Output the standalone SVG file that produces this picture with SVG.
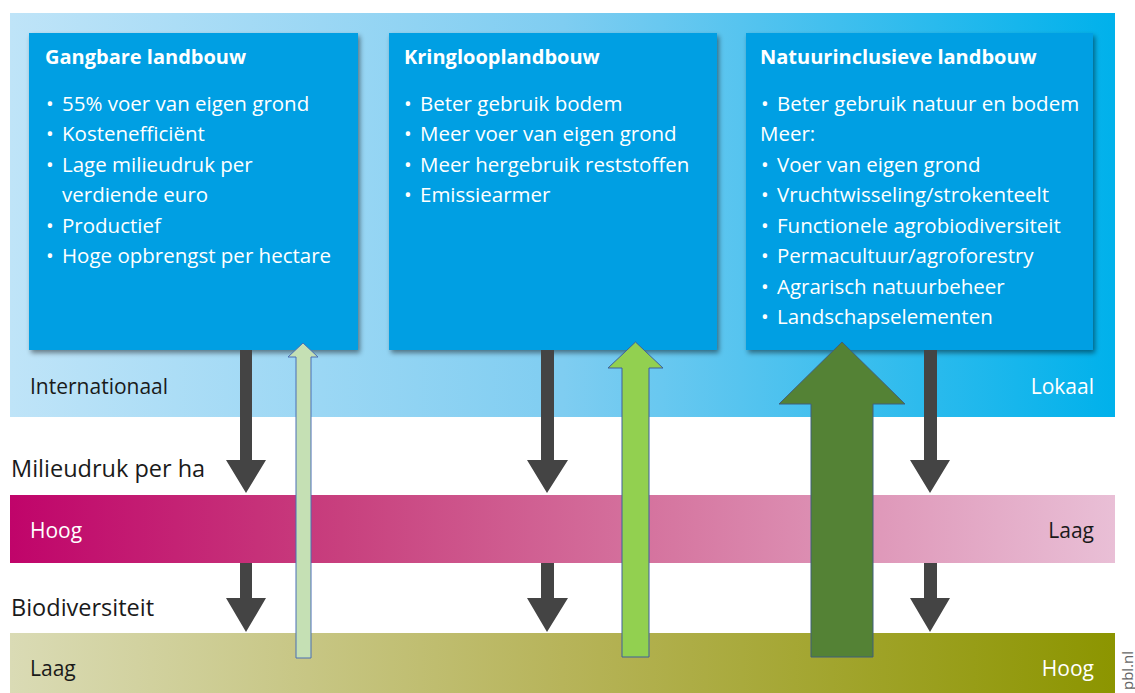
<svg xmlns="http://www.w3.org/2000/svg" width="1135" height="693" viewBox="0 0 1135 693">
<defs>
<linearGradient id="gBlue" x1="0" x2="1" y1="0" y2="0"><stop offset="0" stop-color="#bfe4f8"/><stop offset="0.5" stop-color="#7fcdf1"/><stop offset="1" stop-color="#00b1eb"/></linearGradient>
<linearGradient id="gPink" x1="0" x2="1" y1="0" y2="0"><stop offset="0" stop-color="#c0046a"/><stop offset="0.3" stop-color="#c8407e"/><stop offset="0.6" stop-color="#d677a1"/><stop offset="1" stop-color="#e9bfd6"/></linearGradient>
<linearGradient id="gOlive" x1="0" x2="1" y1="0" y2="0"><stop offset="0" stop-color="#dadbb5"/><stop offset="0.5" stop-color="#b7b45a"/><stop offset="1" stop-color="#8c9500"/></linearGradient>
<filter id="sh" x="-5%" y="-5%" width="112%" height="115%"><feDropShadow dx="2" dy="3" stdDeviation="2.5" flood-color="#000" flood-opacity="0.45"/></filter>
<style>
.box{fill:#009fe3;filter:url(#sh)}
.t{font-family:"Open Sans","Liberation Sans",sans-serif;font-size:20.5px;fill:#fff}
.h{font-weight:bold;font-size:20px}
.lab{font-family:"Open Sans","Liberation Sans",sans-serif;font-size:21px}
.big{font-family:"Open Sans","Liberation Sans",sans-serif;font-size:23.5px;fill:#1a1a1a}
.dark{fill:#444}
</style>
</defs>
<rect x="10" y="13" width="1105" height="404" fill="url(#gBlue)"/>
<rect x="10" y="495" width="1105" height="68" fill="url(#gPink)"/>
<rect x="10" y="633" width="1105" height="60" fill="url(#gOlive)"/>
<g id="gangbare">
<rect class="box" x="29" y="33" width="329" height="317"/>
<text class="t h" x="45" y="64">Gangbare landbouw</text>
<text class="t" x="46" y="111">•</text><text class="t" x="62" y="111">55% voer van eigen grond</text>
<text class="t" x="46" y="141">•</text><text class="t" x="62" y="141">Kostenefficiënt</text>
<text class="t" x="46" y="172">•</text><text class="t" x="62" y="172">Lage milieudruk per</text>
<text class="t" x="62" y="202">verdiende euro</text>
<text class="t" x="46" y="233">•</text><text class="t" x="62" y="233">Productief</text>
<text class="t" x="46" y="263">•</text><text class="t" x="62" y="263">Hoge opbrengst per hectare</text>
</g>
<g id="kringloop">
<rect class="box" x="389" y="33" width="328" height="317"/>
<text class="t h" x="404" y="64">Kringlooplandbouw</text>
<text class="t" x="404" y="111">•</text><text class="t" x="420" y="111">Beter gebruik bodem</text>
<text class="t" x="404" y="141">•</text><text class="t" x="420" y="141">Meer voer van eigen grond</text>
<text class="t" x="404" y="172">•</text><text class="t" x="420" y="172">Meer hergebruik reststoffen</text>
<text class="t" x="404" y="202">•</text><text class="t" x="420" y="202">Emissiearmer</text>
</g>
<g id="natuurinclusief">
<rect class="box" x="746" y="33" width="347" height="317"/>
<text class="t h" x="760" y="64">Natuurinclusieve landbouw</text>
<text class="t" x="761" y="111">•</text><text class="t" x="777" y="111">Beter gebruik natuur en bodem</text>
<text class="t" x="760" y="141">Meer:</text>
<text class="t" x="761" y="172">•</text><text class="t" x="777" y="172">Voer van eigen grond</text>
<text class="t" x="761" y="202">•</text><text class="t" x="777" y="202">Vruchtwisseling/strokenteelt</text>
<text class="t" x="761" y="233">•</text><text class="t" x="777" y="233">Functionele agrobiodiversiteit</text>
<text class="t" x="761" y="263">•</text><text class="t" x="777" y="263">Permacultuur/agroforestry</text>
<text class="t" x="761" y="294">•</text><text class="t" x="777" y="294">Agrarisch natuurbeheer</text>
<text class="t" x="761" y="324">•</text><text class="t" x="777" y="324">Landschapselementen</text>
</g>
<g id="labels">
<text class="lab" x="30" y="394" fill="#1a1a1a">Internationaal</text>
<text class="lab" x="1094" y="394" fill="#fff" text-anchor="end">Lokaal</text>
<text class="big" x="11" y="477">Milieudruk per ha</text>
<text class="big" x="11" y="616">Biodiversiteit</text>
<text class="lab" x="30" y="538" fill="#fff">Hoog</text>
<text class="lab" x="1094" y="538" fill="#1a1a1a" text-anchor="end">Laag</text>
<text class="lab" x="30" y="676" fill="#1a1a1a">Laag</text>
<text class="lab" x="1094" y="676" fill="#fff" text-anchor="end">Hoog</text>
<text x="1133" y="690" transform="rotate(-90 1133 690)" font-family="'Open Sans','Liberation Sans',sans-serif" font-size="15" fill="#666">pbl.nl</text>
</g>
<g id="connectors">
<path class="dark" d="M240,350 H252 V460 H266 L246,493 L226,460 H240 Z"/>
<path class="dark" d="M240,563 H252 V598 H266 L246,632 L226,598 H240 Z"/>
<path class="dark" d="M541,350 H554 V460 H568 L547,493 L527,460 H541 Z"/>
<path class="dark" d="M541,563 H554 V598 H568 L547,632 L527,598 H541 Z"/>
<path class="dark" d="M924,350 H937 V460 H950 L930,493 L910,460 H924 Z"/>
<path class="dark" d="M924,563 H937 V598 H950 L930,632 L910,598 H924 Z"/>
<path d="M296,658 V357 H288 L303,343 L318,357 H311 V658 Z" fill="#c5e0b4" stroke="#4a6fb5" stroke-width="1"/>
<path d="M622,657 V368 H608 L635.5,342 L663,368 H649 V657 Z" fill="#92d050" stroke="#3f5f9c" stroke-width="1"/>
<path d="M811,657 V404 H779 L842,342 L905,404 H873 V657 Z" fill="#548235" stroke="#3f5f7c" stroke-width="1"/>
</g>
</svg>
